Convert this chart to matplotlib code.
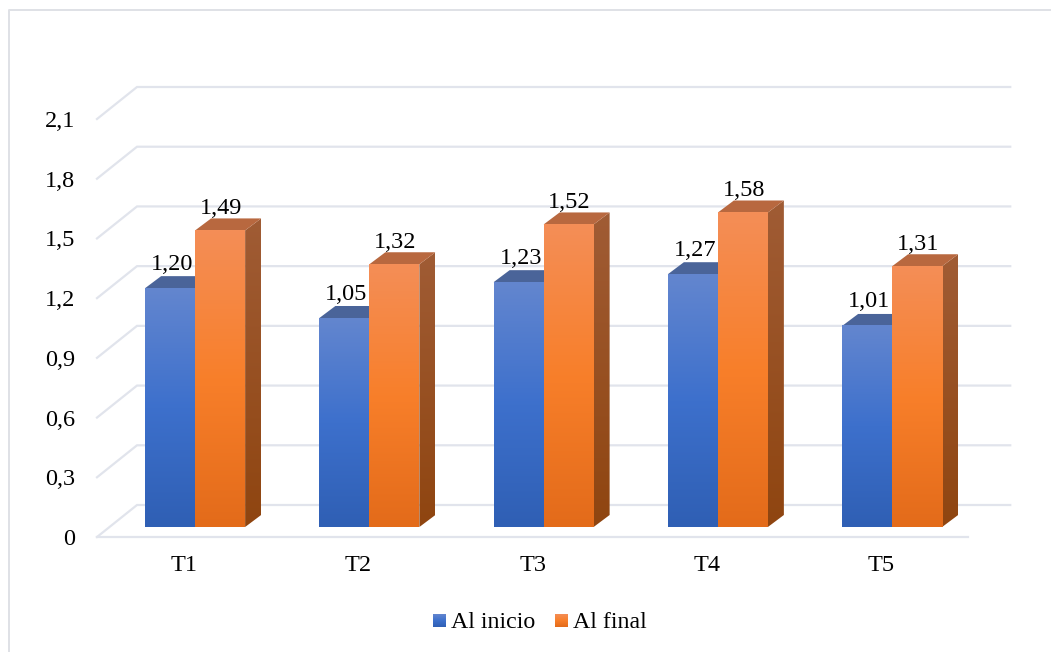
import numpy as np
import matplotlib
matplotlib.use("Agg")
import matplotlib.pyplot as plt
from matplotlib.colors import LinearSegmentedColormap
from matplotlib.lines import Line2D
from matplotlib.patches import Polygon

groups = ["T1", "T2", "T3", "T4", "T5"]
al_inicio = [1.20, 1.05, 1.23, 1.27, 1.01]
al_final = [1.49, 1.32, 1.52, 1.58, 1.31]
y_ticks = [0, 0.3, 0.6, 0.9, 1.2, 1.5, 1.8, 2.1]
y_labels = ["0", "0,3", "0,6", "0,9", "1,2", "1,5", "1,8", "2,1"]
series_names = ["Al inicio", "Al final"]

W, H = 1051, 652
GRID = "#e1e4ec"
FS = 17.5

plt.rcParams["font.family"] = ["Liberation Serif", "DejaVu Serif"]
fig = plt.figure(figsize=(W / 100, H / 100), dpi=100)
# the axes is the front plane of the 3d box, in pixels from the top left
ax = fig.add_axes([97 / W, 1 - 537 / H, 871.25 / W, 418 / H])
ax.set_facecolor("none")

px_x = 174.25  # pixels per category
px_y = 418 / 2.1  # pixels per unit


def dx(p):
    return p / px_x


def dy(p):
    return p / px_y


blue_cmap = LinearSegmentedColormap.from_list("b", ["#6386cf", "#3d70cc", "#2f5fb4"])
orange_cmap = LinearSegmentedColormap.from_list("o", ["#f48e57", "#f87f2a", "#e36b1a"])
side_cmap = LinearSegmentedColormap.from_list("s", ["#a05c35", "#8f4510"])
ramp = np.linspace(0, 1, 256).reshape(-1, 1)


def bar3d(left, value, cmap, top_color, side_color_map):
    # left is in category units, the box sits a little behind the front plane
    w = dx(50)
    x0 = left
    x1 = left + w
    y0 = dy(10)
    y1 = value + dy(10)
    ox, oy = dx(16), dy(12)
    side = ax.imshow(ramp, cmap=side_color_map, aspect="auto", zorder=3,
                     extent=(x1, x1 + ox, y0, y1 + oy))
    # cut the side image down to a parallelogram
    clip = Polygon([(x1, y0), (x1 + ox, y0 + oy), (x1 + ox, y1 + oy), (x1, y1)],
                   transform=ax.transData, fc="none", ec="none")
    ax.add_patch(clip)
    side.set_clip_path(clip)
    ax.add_patch(Polygon([(x0, y1), (x1, y1), (x1 + ox, y1 + oy), (x0 + ox, y1 + oy)],
                         fc=top_color, ec="none", zorder=3, clip_on=False))
    ax.imshow(ramp, cmap=cmap, aspect="auto", zorder=3, clip_on=False,
              extent=(x0, x1, y0, y1))


# back wall gridlines and the diagonals running to the front plane
for t in y_ticks:
    ax.plot([-0.5, -0.5 + dx(40), 4.5 + dx(42)], [t, t + dy(32), t + dy(32)],
            color=GRID, lw=1.6, clip_on=False, zorder=1, solid_joinstyle="miter")

for i in range(len(groups)):
    bar3d(i - dx(39), al_inicio[i], blue_cmap, "#4a6499", blue_cmap)
    bar3d(i + dx(11), al_final[i], orange_cmap, "#b8683f", side_cmap)
    ax.text(i - dx(12), al_inicio[i] + dy(10) + dy(24), f"{al_inicio[i]:.2f}".replace(".", ","),
            ha="center", va="center", fontsize=FS, color="black", zorder=5)
    ax.text(i + dx(37), al_final[i] + dy(10) + dy(22), f"{al_final[i]:.2f}".replace(".", ","),
            ha="center", va="center", fontsize=FS, color="black", zorder=5)

ax.set_xlim(-0.5, 4.5)
ax.set_ylim(0, 2.1)
ax.set_xticks(range(len(groups)), groups)
ax.set_yticks(y_ticks, y_labels)
ax.tick_params(length=0, labelsize=FS, colors="black")
ax.tick_params(axis="x", pad=13)
ax.tick_params(axis="y", pad=16)
for label in ax.get_xticklabels():
    label.set_x(label.get_position()[0])
for name in ["top", "right", "left"]:
    ax.spines[name].set_visible(False)
ax.spines["bottom"].set_color(GRID)
ax.spines["bottom"].set_linewidth(1.6)

# legend, with gradient swatches like the bars
swatch_x = [433, 555]
text_x = [451, 573]
for x, tx, cmap, name in zip(swatch_x, text_x, [blue_cmap, orange_cmap], series_names):
    sw = fig.add_axes([x / W, 1 - 627 / H, 13 / W, 13 / H])
    sw.imshow(ramp, cmap=cmap, aspect="auto")
    sw.axis("off")
    fig.text(tx / W, 1 - 622 / H, name, ha="left", va="center", fontsize=17.2, color="black")

# thin frame, only top and left fall inside the image
fig.add_artist(Line2D([9 / W, 9 / W, 1], [0, 1 - 10 / H, 1 - 10 / H], color="#dfe1e6", lw=1.4))

fig.savefig("out.png", dpi=100)
